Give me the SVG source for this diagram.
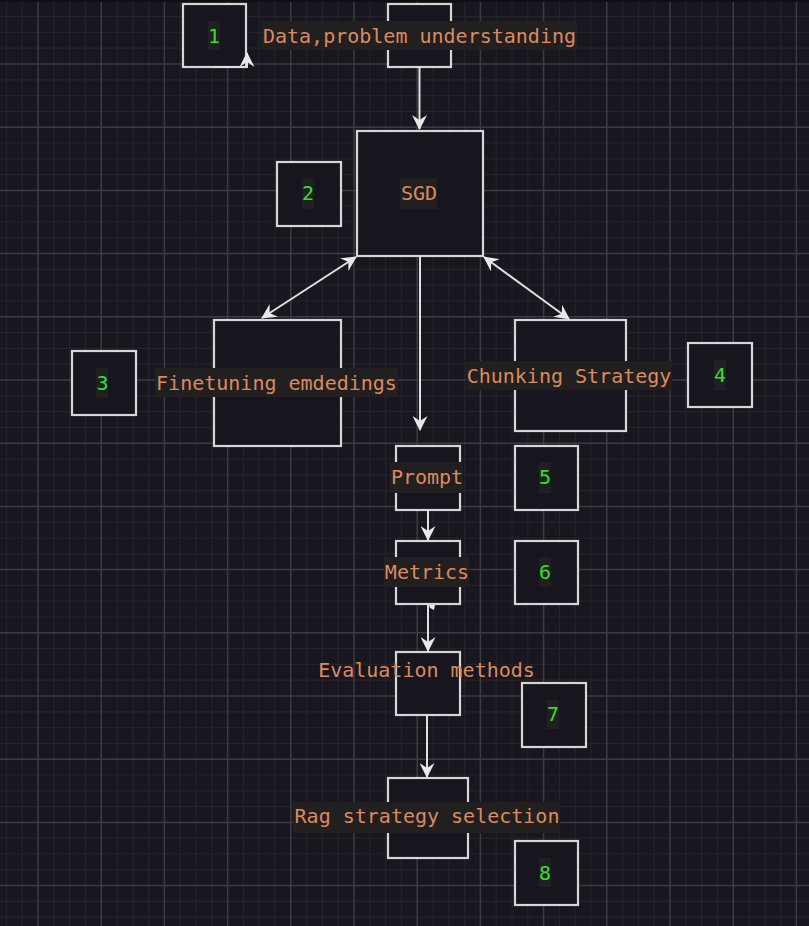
<svg xmlns="http://www.w3.org/2000/svg" width="809" height="926" viewBox="0 0 809 926">
  <defs>
    <marker id="arr" viewBox="0 0 15 15" refX="14" refY="7.5" markerWidth="15" markerHeight="15" markerUnits="userSpaceOnUse" orient="auto-start-reverse">
      <path d="M0,0 L15,7.5 L0,15 L5,7.5 z" fill="#e8e8e8"/>
    </marker>
    <style>
      .minor { stroke: #24232a; stroke-width: 1.2; fill: none; }
      .major { stroke: #3c3b42; stroke-width: 1.5; fill: none; }
      .box { fill: #17151d; stroke: #d6d6d6; stroke-width: 2.2; }
      .lbg { fill: #211f1f; }
      .lbl { font-family: "DejaVu Sans Mono", "Liberation Mono", monospace; font-size: 20px; fill: #dc8a5e; text-anchor: middle; }
      .num { font-family: "DejaVu Sans Mono", "Liberation Mono", monospace; font-size: 20px; fill: #2fe032; text-anchor: middle; }
      .con { stroke: #e0e0e0; stroke-width: 2; fill: none; }
    </style>
  </defs>
  <rect width="809" height="926" fill="#18161e"/>
  <g id="grid">
    <path class="minor" d="M6.4,0V926M22.2,0V926M53.8,0V926M69.6,0V926M85.4,0V926M117,0V926M132.8,0V926M148.6,0V926M180.2,0V926M196,0V926M211.8,0V926M243.4,0V926M259.2,0V926M275,0V926M306.6,0V926M322.4,0V926M338.2,0V926M369.8,0V926M385.6,0V926M401.4,0V926M433,0V926M448.8,0V926M464.6,0V926M496.2,0V926M512,0V926M527.8,0V926M559.4,0V926M575.2,0V926M591,0V926M622.6,0V926M638.4,0V926M654.2,0V926M685.8,0V926M701.6,0V926M717.4,0V926M749,0V926M764.8,0V926M780.6,0V926
    M0,16.6H809M0,32.4H809M0,48.2H809M0,79.8H809M0,95.6H809M0,111.4H809M0,143H809M0,158.8H809M0,174.6H809M0,206.2H809M0,222H809M0,237.8H809M0,269.4H809M0,285.2H809M0,301H809M0,332.6H809M0,348.4H809M0,364.2H809M0,395.8H809M0,411.6H809M0,427.4H809M0,459H809M0,474.8H809M0,490.6H809M0,522.2H809M0,538H809M0,553.8H809M0,585.4H809M0,601.2H809M0,617H809M0,648.6H809M0,664.4H809M0,680.2H809M0,711.8H809M0,727.6H809M0,743.4H809M0,775H809M0,790.8H809M0,806.6H809M0,838.2H809M0,854H809M0,869.8H809M0,901.4H809M0,917.2H809"/>
    <path class="major" d="M38,0V926M101.2,0V926M164.4,0V926M227.6,0V926M290.8,0V926M354,0V926M417.2,0V926M480.4,0V926M543.6,0V926M606.8,0V926M670,0V926M733.2,0V926M796.4,0V926
    M0,64H809M0,127.2H809M0,190.4H809M0,253.6H809M0,316.8H809M0,380H809M0,443.2H809M0,506.4H809M0,569.6H809M0,632.8H809M0,696H809M0,759.2H809M0,822.4H809M0,885.6H809"/>
    <rect width="809" height="2" fill="#0f0f12"/>
  </g>

  <g id="n1">
    <rect class="box" x="183" y="4" width="63" height="63"/>
    <rect class="lbg" x="208" y="21" width="12" height="29"/>
    <text class="num" x="214" y="43">1</text>
  </g>
  <g id="n-data">
    <rect class="box" x="388" y="4" width="63" height="63"/>
    <rect class="lbg" x="261" y="21" width="316" height="29"/>
    <text class="lbl" x="419.5" y="43">Data,problem understanding</text>
  </g>
  <g id="n2">
    <rect class="box" x="277" y="162" width="64" height="64"/>
    <rect class="lbg" x="302" y="178" width="12" height="31"/>
    <text class="num" x="308" y="200">2</text>
  </g>
  <g id="n-sgd">
    <rect class="box" x="357" y="131" width="126" height="125"/>
    <rect class="lbg" x="400" y="178" width="37" height="31"/>
    <text class="lbl" x="419" y="200">SGD</text>
  </g>
  <g id="n3">
    <rect class="box" x="72" y="351" width="64" height="64"/>
    <rect class="lbg" x="96" y="368" width="12" height="30"/>
    <text class="num" x="102.5" y="390">3</text>
  </g>
  <g id="n-finetune">
    <rect class="box" x="214" y="320" width="127" height="126"/>
    <rect class="lbg" x="155" y="368" width="243" height="29"/>
    <text class="lbl" x="276.5" y="390">Finetuning emdedings</text>
  </g>
  <g id="n-chunk">
    <rect class="box" x="515" y="320" width="111" height="111"/>
    <rect class="lbg" x="466" y="361" width="206" height="29"/>
    <text class="lbl" x="569" y="383">Chunking Strategy</text>
  </g>
  <g id="n4">
    <rect class="box" x="688" y="343" width="64" height="64"/>
    <rect class="lbg" x="714" y="360" width="12" height="30"/>
    <text class="num" x="720" y="382">4</text>
  </g>
  <g id="n-prompt">
    <rect class="box" x="396" y="446" width="64" height="64"/>
    <rect class="lbg" x="390" y="462" width="73" height="31"/>
    <text class="lbl" x="427" y="484">Prompt</text>
  </g>
  <g id="n5">
    <rect class="box" x="515" y="446" width="63" height="64"/>
    <rect class="lbg" x="539" y="462" width="12" height="31"/>
    <text class="num" x="545" y="484">5</text>
  </g>
  <g id="n-metrics">
    <rect class="box" x="396" y="541" width="64" height="63"/>
    <rect class="lbg" x="384" y="557" width="85" height="30"/>
    <text class="lbl" x="427" y="579">Metrics</text>
  </g>
  <g id="n6">
    <rect class="box" x="515" y="541" width="63" height="63"/>
    <rect class="lbg" x="539" y="557" width="12" height="30"/>
    <text class="num" x="545" y="579">6</text>
  </g>
  <g id="n-eval">
    <rect class="box" x="396" y="652" width="64" height="63"/>
    <text class="lbl" x="426.5" y="677">Evaluation methods</text>
  </g>
  <g id="n7">
    <rect class="box" x="522" y="683" width="64" height="64"/>
    <rect class="lbg" x="547" y="700" width="12" height="29"/>
    <text class="num" x="553" y="721">7</text>
  </g>
  <g id="n-rag">
    <rect class="box" x="388" y="778" width="80" height="80"/>
    <rect class="lbg" x="293" y="802" width="267" height="31"/>
    <text class="lbl" x="427" y="823">Rag strategy selection</text>
  </g>
  <g id="n8">
    <rect class="box" x="515" y="841" width="63" height="64"/>
    <rect class="lbg" x="539" y="858" width="12" height="29"/>
    <text class="num" x="545" y="880">8</text>
  </g>

  <g id="connectors">
    <path class="con" d="M214,67 H247 V53" marker-end="url(#arr)"/>
    <path class="con" d="M419.5,67 V129" marker-end="url(#arr)"/>
    <path class="con" d="M356,257 L262,318" marker-start="url(#arr)" marker-end="url(#arr)"/>
    <path class="con" d="M484,257 L569,319" marker-start="url(#arr)" marker-end="url(#arr)"/>
    <path class="con" d="M420,256 V430" marker-end="url(#arr)"/>
    <path class="con" d="M428,510 V540" marker-end="url(#arr)"/>
    <path class="con" d="M428,605 V651" marker-end="url(#arr)"/>
    <polygon points="429,605 435,605 434,610 430,608" fill="#e8e8e8"/>
    <path class="con" d="M427,715 V777" marker-end="url(#arr)"/>
  </g>
</svg>
